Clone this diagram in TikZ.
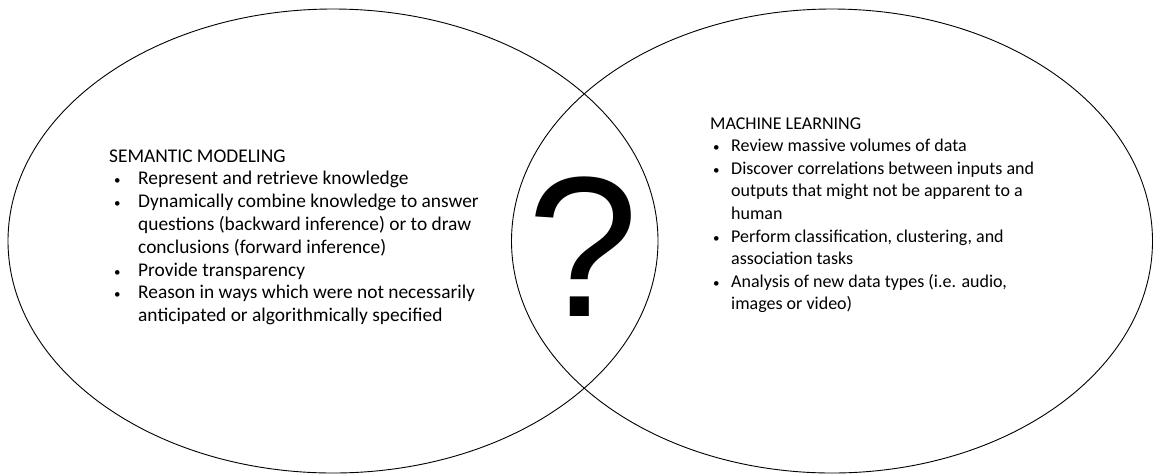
\documentclass[tikz,border=0pt]{standalone}
\usepackage{fontspec}
\setmainfont{Carlito}
\newfontfamily\qmarkfont{Liberation Sans}
\usetikzlibrary{shapes.geometric}
\definecolor{linecolor}{RGB}{0, 0, 0}
\newcommand{\semsize}{\fontsize{19.4}{22.8}\selectfont}
\newcommand{\mlsize}{\fontsize{18}{22.6}\selectfont}
\newcommand{\bul}{{\fontsize{13}{13}\selectfont\textbullet}}

\tikzset{
  setellipse/.style={shape=ellipse,
                     draw=linecolor,
                     line width=0.9pt,
                     inner sep=0pt,
                     minimum height=464pt},
  listblock/.style={anchor=base west,
                    inner sep=0pt,
                    align=left}
}

\begin{document}
\begin{tikzpicture}[x=1pt,y=-1pt]
        \useasboundingbox (0,0) rectangle (1155,475);
        % the two sets
        \node[setellipse, minimum width=650pt] (semset) at (333,241) {};
        \node[setellipse, minimum width=641pt] (mlset) at (832,241) {};
        % overlap
        \node[anchor=base,
              inner sep=0pt,
              font=\qmarkfont\fontsize{200}{210}\selectfont] (question) at (583,316) {?};
        % left set
        \node[listblock, font=\semsize] (semtext) at (109,162) {%
          \begin{tabular}[t]{@{}p{29pt}@{}l@{}}
            \multicolumn{2}{@{}l@{}}{SEMANTIC MODELING}\\
            \hspace{5pt}\bul & Represent and retrieve knowledge\\
            \hspace{5pt}\bul & Dynamically combine knowledge to answer\\
                 & questions (backward inference) or to draw\\
                 & conclusions (forward inference)\\
            \hspace{5pt}\bul & Provide transparency\\
            \hspace{5pt}\bul & Reason in ways which were not necessarily\\
                 & anticipated or algorithmically specified
          \end{tabular}};
        % right set
        \node[listblock, font=\mlsize] (mltext) at (710,129) {%
          \begin{tabular}[t]{@{}p{21pt}@{}l@{}}
            \multicolumn{2}{@{}l@{}}{MACHINE LEARNING}\\
            \hspace{3pt}\bul & Review massive volumes of data\\
            \hspace{3pt}\bul & Discover correlations between inputs and\\
                 & outputs that might not be apparent to a\\
                 & human\\
            \hspace{3pt}\bul & Perform classification, clustering, and\\
                 & association tasks\\
            \hspace{3pt}\bul & Analysis of new data types (i.e. audio,\\
                 & images or video)
          \end{tabular}};
\end{tikzpicture}
\end{document}
